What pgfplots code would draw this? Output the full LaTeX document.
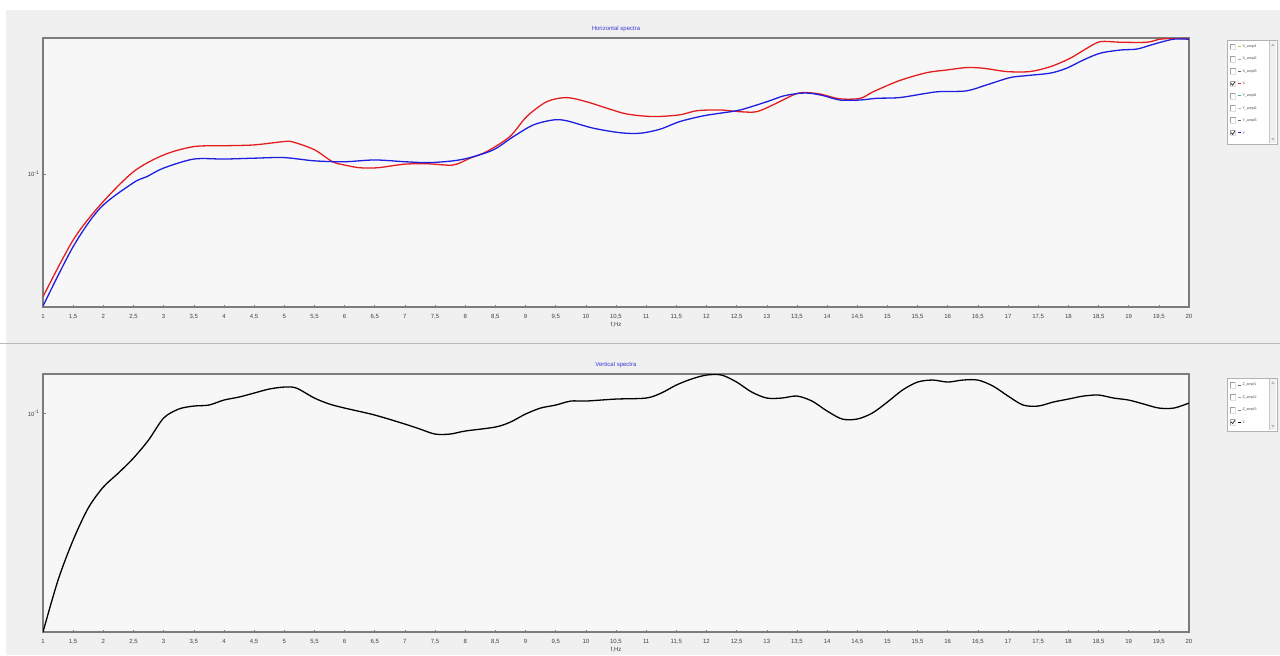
\documentclass[border=0pt]{standalone}
\usepackage{fontspec}
\setmainfont{Liberation Sans}
\usepackage{pgfplots}
\pgfplotsset{compat=1.18}

\definecolor{panelbg}{HTML}{F0F0F0}
\definecolor{plotbg}{HTML}{F7F7F7}
\definecolor{framegray}{HTML}{7C7C7C}
\definecolor{xred}{HTML}{E41E20}
\definecolor{yblue}{HTML}{1E1EE0}
\definecolor{titleblue}{HTML}{3A3AD8}
\definecolor{lgolive}{HTML}{B8C050}
\definecolor{lgteal}{HTML}{40A8A8}
\definecolor{lgpink}{HTML}{E0A0C8}

% Horizontal spectrum, channel X
\pgfplotstableread{
f v
1.00 0.0673
1.50 0.0808
1.95 0.0905
2.50 0.1007
3.00 0.1063
3.50 0.1092
4.00 0.1095
4.50 0.1098
5.00 0.1110
5.15 0.1108
5.50 0.1081
5.80 0.1040
6.00 0.1029
6.25 0.1020
6.55 0.1020
7.00 0.1032
7.40 0.1033
7.80 0.1029
8.08 0.1052
8.36 0.1075
8.74 0.1128
9.02 0.1203
9.35 0.1262
9.68 0.1279
10.01 0.1262
10.35 0.1236
10.68 0.1213
11.12 0.1203
11.56 0.1210
11.84 0.1226
12.22 0.1229
12.56 0.1222
12.83 0.1222
13.10 0.1249
13.44 0.1290
13.60 0.1300
13.88 0.1294
14.21 0.1274
14.55 0.1276
14.77 0.1304
15.20 0.1351
15.65 0.1386
15.98 0.1398
16.31 0.1409
16.59 0.1406
16.98 0.1391
17.36 0.1391
17.70 0.1413
18.03 0.1452
18.31 0.1500
18.53 0.1532
18.86 0.1529
19.30 0.1529
19.52 0.1544
19.80 0.1549
20.00 0.1544
}\specX

% Horizontal spectrum, channel Y
\pgfplotstableread{
f v
1.00 0.0653
1.50 0.0791
1.95 0.0896
2.50 0.0972
2.72 0.0991
3.00 0.1019
3.50 0.1049
4.00 0.1049
4.50 0.1052
5.00 0.1054
5.50 0.1043
6.00 0.1040
6.50 0.1046
7.00 0.1040
7.40 0.1037
7.80 0.1043
8.08 0.1054
8.47 0.1081
8.80 0.1128
9.13 0.1171
9.46 0.1190
9.68 0.1187
10.12 0.1159
10.57 0.1142
10.90 0.1140
11.23 0.1155
11.56 0.1184
11.95 0.1206
12.22 0.1216
12.56 0.1229
13.00 0.1262
13.28 0.1286
13.55 0.1297
13.72 0.1297
13.94 0.1287
14.21 0.1269
14.55 0.1269
14.82 0.1276
15.20 0.1279
15.65 0.1297
15.87 0.1304
16.31 0.1307
16.64 0.1332
17.03 0.1364
17.31 0.1373
17.70 0.1384
17.97 0.1406
18.25 0.1444
18.53 0.1476
18.86 0.1491
19.14 0.1496
19.41 0.1519
19.74 0.1544
20.00 0.1544
}\specY

% Vertical spectrum, channel Z
\pgfplotstableread{
f v
1.00 0.02835
1.25 0.03824
1.50 0.04815
1.75 0.05788
2.00 0.06531
2.25 0.07079
2.50 0.07718
2.75 0.08561
3.00 0.09716
3.25 0.10233
3.50 0.10411
3.75 0.10471
4.00 0.10777
4.25 0.10965
4.50 0.11220
4.75 0.11482
5.00 0.11614
5.20 0.11548
5.50 0.10902
5.75 0.10532
6.00 0.10292
6.50 0.09886
7.00 0.09386
7.25 0.09120
7.50 0.08861
7.75 0.08861
8.00 0.09016
8.50 0.09226
8.75 0.09495
9.00 0.09943
9.25 0.10292
9.50 0.10471
9.75 0.10715
10.00 0.10715
10.50 0.10839
11.00 0.10902
11.25 0.11220
11.50 0.11749
11.75 0.12162
12.00 0.12445
12.25 0.12445
12.50 0.11954
12.75 0.11285
13.00 0.10902
13.25 0.10902
13.50 0.11028
13.75 0.10715
14.00 0.10116
14.25 0.09661
14.50 0.09661
14.75 0.10000
15.00 0.10654
15.25 0.11416
15.50 0.11954
15.75 0.12092
16.00 0.11954
16.25 0.12092
16.50 0.12092
16.75 0.11682
17.00 0.11028
17.25 0.10471
17.50 0.10411
17.75 0.10654
18.00 0.10839
18.25 0.11028
18.50 0.11092
18.75 0.10902
19.00 0.10777
19.25 0.10532
19.50 0.10292
19.75 0.10292
20.00 0.10593
}\specZ

\pgfplotsset{
  /pgfplots/specaxis/.style={
    scale only axis, width=1146pt, anchor=north west,
    xmin=1, xmax=20,
    axis background/.style={fill=plotbg},
    axis line style={draw=framegray, line width=1.4pt},
    xtick={1,1.5,...,20},
    xticklabels={1,{1,5},2,{2,5},3,{3,5},4,{4,5},5,{5,5},6,{6,5},7,{7,5},8,{8,5},9,{9,5},10,{10,5},11,{11,5},12,{12,5},13,{13,5},14,{14,5},15,{15,5},16,{16,5},17,{17,5},18,{18,5},19,{19,5},20},
    tickpos=left, tick align=inside, major tick length=2.5pt,
    tick style={draw=framegray, line width=0.5pt},
    tick label style={font=\fontsize{6}{7}\selectfont, text=black!75},
    xticklabel style={yshift=-4pt},
    xlabel={f,Hz},
    xlabel style={font=\fontsize{6}{7}\selectfont, text=black!75, yshift=4pt},
    title style={font=\fontsize{6}{7}\selectfont, text=titleblue, yshift=-3pt},
  },
}

% one row of a channel selector: y, colour, checked (1/0), name
\newcommand{\lgrow}[4]{%
  \fill[white] (1230,-#1-2.8) rectangle (1235.6,-#1+2.8);
  \draw[gray!75, line width=0.6pt] (1230,-#1-2.8) -- (1230,-#1+2.8) -- (1235.6,-#1+2.8);
  \draw[gray!25, line width=0.4pt] (1230,-#1-2.8) -- (1235.6,-#1-2.8) -- (1235.6,-#1+2.8);
  \ifnum#3=1
    \draw[black!85, line width=0.7pt] (1231,-#1+0.2) -- (1232.6,-#1-1.6) -- (1235,-#1+1.9);
  \fi
  \draw[#2, line width=1pt] (1237.5,-#1) -- (1241,-#1);
  \node[anchor=west, inner sep=0pt, font=\fontsize{3.6}{4}\selectfont, text=black!70] at (1242.3,-#1) {#4};
}

\begin{document}
\begin{tikzpicture}
\begin{scope}[x=1pt,y=1pt]
  \useasboundingbox (0,0) rectangle (1280,-655);
  \fill[white] (0,0) rectangle (1280,-655);
  \fill[panelbg] (6,-10) rectangle (1280,-655);
  \draw[gray!55, line width=1pt] (0,-343) -- (1280,-343);
\end{scope}

\begin{axis}[specaxis, ymode=log, yminorticks=false,
  at={(43pt,-38pt)}, height=269pt,
  ymin=0.0651, ymax=0.155,
  ytick={0.1}, yticklabels={10\textsuperscript{-1}},
  title={Horizontal spectra}]
  \addplot[draw=xred, line width=1.3pt, smooth, tension=0.5] table[x=f, y=v] {\specX};
  \addplot[draw=yblue, line width=1.3pt, smooth, tension=0.5] table[x=f, y=v] {\specY};
\end{axis}

\begin{axis}[specaxis, ymode=log, yminorticks=false,
  at={(43pt,-374pt)}, height=258pt,
  ymin=0.02835, ymax=0.1252,
  ytick={0.1}, yticklabels={10\textsuperscript{-1}},
  title={Vertical spectra}]
  \addplot[draw=black, line width=1.3pt, smooth, tension=0.5] table[x=f, y=v] {\specZ};
\end{axis}

\begin{scope}[x=1pt,y=1pt]
  % channel selector, horizontal components
  \draw[fill=white, draw=gray!60, line width=0.8pt] (1227,-40) rectangle (1277,-144);
  \fill[gray!12] (1269.5,-41) rectangle (1276.3,-143);
  \draw[gray!45, line width=0.4pt] (1269.5,-41) -- (1269.5,-143);
  \fill[gray!55] (1271.2,-46) -- (1274.6,-46) -- (1272.9,-43.5) -- cycle;
  \fill[gray!55] (1271.2,-138) -- (1274.6,-138) -- (1272.9,-140.5) -- cycle;
  \lgrow{46.7}{lgolive}{0}{X\_ampl1}
  \lgrow{59}{gray!70}{0}{X\_ampl2}
  \lgrow{71.3}{black!60}{0}{X\_ampl3}
  \lgrow{83.6}{xred}{1}{X}
  \lgrow{95.9}{lgteal}{0}{Y\_ampl1}
  \lgrow{108.2}{lgpink}{0}{Y\_ampl2}
  \lgrow{120.5}{black!60}{0}{Y\_ampl3}
  \lgrow{132.8}{yblue}{1}{Y}

  % channel selector, vertical component
  \draw[fill=white, draw=gray!60, line width=0.8pt] (1227,-378) rectangle (1277,-431);
  \fill[gray!12] (1269.5,-379) rectangle (1276.3,-430);
  \draw[gray!45, line width=0.4pt] (1269.5,-379) -- (1269.5,-430);
  \fill[gray!55] (1271.2,-384) -- (1274.6,-384) -- (1272.9,-381.5) -- cycle;
  \fill[gray!55] (1271.2,-425) -- (1274.6,-425) -- (1272.9,-427.5) -- cycle;
  \lgrow{385}{black!60}{0}{Z\_ampl1}
  \lgrow{397.5}{gray!70}{0}{Z\_ampl2}
  \lgrow{410}{black!50}{0}{Z\_ampl3}
  \lgrow{422}{black}{1}{Z}
\end{scope}
\end{tikzpicture}
\end{document}
